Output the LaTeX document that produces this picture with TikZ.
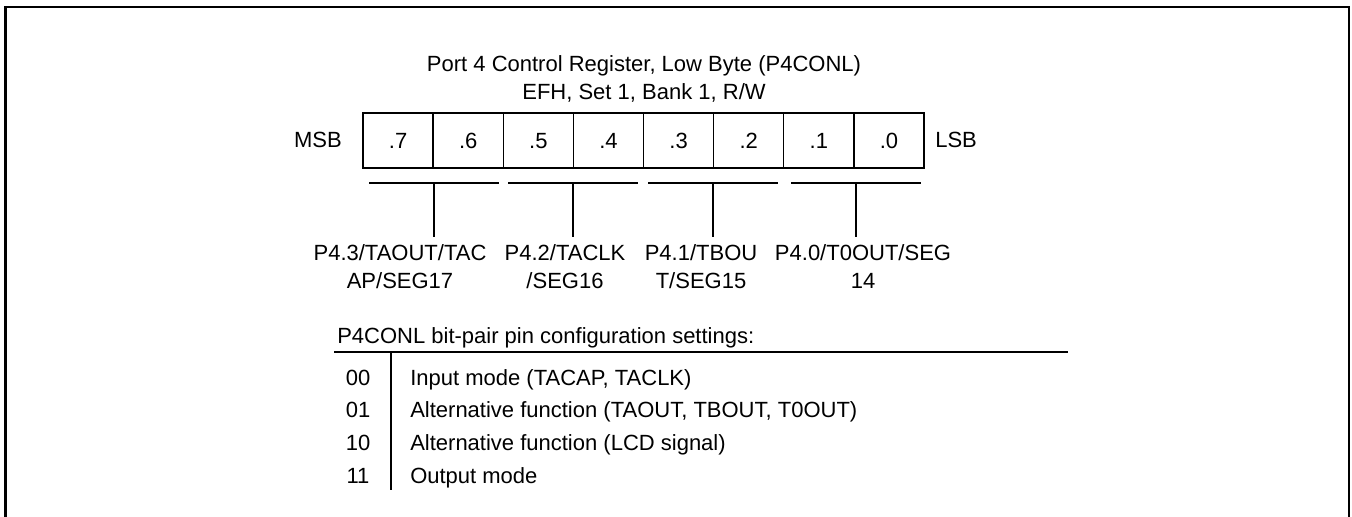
\documentclass[tikz,border=0pt]{standalone}
\usepackage{fontspec}
\setmainfont{Liberation Sans}
\begin{document}
\begin{tikzpicture}[x=0.75pt,y=-0.75pt,
  txt/.style={inner sep=0pt, font=\fontsize{16.5}{20}\selectfont},
  cell/.style={draw, line width=1pt, minimum width=52.59pt, minimum height=41.25pt,
    inner sep=0pt, text height=11.8pt, text depth=0pt, font=\fontsize{16.5}{20}\selectfont},
  thinline/.style={line width=1pt},
  ruleline/.style={line width=1.4pt},
  frameline/.style={line width=1.6pt}]
\useasboundingbox (0,0) rectangle (1352,517);
% frame
\coordinate (f1) at (5.5,520);
\coordinate (f2) at (5.5,7);
\coordinate (f3) at (1349,7);
\coordinate (f4) at (1349,520);
\draw[frameline] (f1) -- (f2) -- (f3) -- (f4);
% title
\node[txt,anchor=base] (t1) at (644,72) {Port 4 Control Register, Low Byte (P4CONL)};
\node[txt,anchor=base] (t2) at (644,99.5) {EFH, Set 1, Bank 1, R/W};
% register cells
\foreach \b [count=\i from 0] in {7,6,5,4,3,2,1,0}
  \node[cell] (c\b) at ({363+70.125*(\i+0.5)},140.5) {.\b};
\node[txt,anchor=base east] (msb) at (342,147) {MSB};
\node[txt,anchor=base west] (lsb) at (935,147) {LSB};
% bars and stems
\foreach \n/\m in {1/434,2/573,3/713,4/856} {
  \coordinate (bl\n) at ({\m-65},183);
  \coordinate (br\n) at ({\m+65},183);
  \coordinate (bm\n) at (\m,183);
  \coordinate (bs\n) at (\m,237);
  \draw[thinline] (bl\n) -- (br\n);
  \draw[thinline] (bm\n) -- (bs\n);
}
% pin labels
\node[txt,anchor=base] (l1a) at (400,260.4) {P4.3/TAOUT/TAC};
\node[txt,anchor=base] (l1b) at (400,288.4) {AP/SEG17};
\node[txt,anchor=base] (l2a) at (565,260.4) {P4.2/TACLK};
\node[txt,anchor=base] (l2b) at (565,288.4) {/SEG16};
\node[txt,anchor=base] (l3a) at (701,260.4) {P4.1/TBOU};
\node[txt,anchor=base] (l3b) at (701,288.4) {T/SEG15};
\node[txt,anchor=base] (l4a) at (863,260.4) {P4.0/T0OUT/SEG};
\node[txt,anchor=base] (l4b) at (863,288.4) {14};
% settings table
\node[txt,anchor=base west] (hdr) at (337,343) {P4CONL bit-pair pin configuration settings:};
\coordinate (rl) at (334,352);
\coordinate (rr) at (1068,352);
\draw[ruleline] (rl) -- (rr);
\coordinate (st) at (391,352);
\coordinate (sb) at (391,490);
\draw[thinline] (st) -- (sb);
\foreach \code/\desc/\y [count=\k] in {00/{Input mode (TACAP, TACLK)}/385,
    01/{Alternative function (TAOUT, TBOUT, T0OUT)}/417.8,
    10/{Alternative function (LCD signal)}/450.6,
    11/{Output mode}/483.4} {
  \node[txt,anchor=base] (code\k) at (358,\y) {\code};
  \node[txt,anchor=base west] (desc\k) at (410,\y) {\desc};
}
\end{tikzpicture}
\end{document}
